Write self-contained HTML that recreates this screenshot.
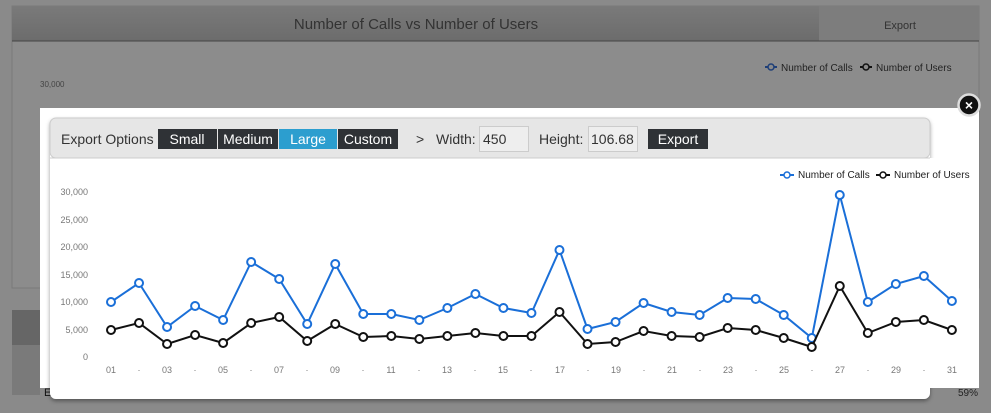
<!DOCTYPE html>
<html><head><meta charset="utf-8"><style>
html,body{margin:0;padding:0;width:991px;height:413px;overflow:hidden;background:#8b8b8b;font-family:"Liberation Sans",sans-serif}
</style></head><body>
<svg width="991" height="413" xmlns="http://www.w3.org/2000/svg" font-family="Liberation Sans, sans-serif">
<defs>
<linearGradient id="hd" x1="0" y1="0" x2="0" y2="1"><stop offset="0" stop-color="#7a7a7a"/><stop offset="1" stop-color="#6c6c6c"/></linearGradient>
<filter id="sh" x="-5%" y="-5%" width="110%" height="120%"><feDropShadow dx="0" dy="2" stdDeviation="2" flood-color="#000" flood-opacity="0.4"/></filter>
</defs>
<rect width="991" height="413" fill="#8a8a8a"/>
<rect x="12" y="6" width="967" height="282" fill="#8c8c8c" stroke="#7a7a7a"/>
<rect x="12" y="6" width="967" height="35" fill="url(#hd)"/>
<rect x="819" y="6" width="160" height="35" fill="#7d7d7d"/>
<line x1="12" y1="41" x2="979" y2="41" stroke="#444"/>
<text x="416" y="29" font-size="15" fill="#333" text-anchor="middle">Number of Calls vs Number of Users</text>
<text x="900" y="29" font-size="11" fill="#333" text-anchor="middle">Export</text>
<text x="40" y="87" font-size="8" fill="#444">30,000</text>
<g font-size="10" fill="#222"><line x1="765" y1="67" x2="777" y2="67" stroke="#1e3f78" stroke-width="2"/><circle cx="771" cy="67" r="3" fill="#8a8a8a" stroke="#1e3f78" stroke-width="1.5"/><text x="781" y="71">Number of Calls</text>
<line x1="860" y1="67" x2="872" y2="67" stroke="#111" stroke-width="2"/><circle cx="866" cy="67" r="3" fill="#8a8a8a" stroke="#111" stroke-width="1.5"/><text x="876" y="71">Number of Users</text></g>
<rect x="12" y="310" width="28" height="35" fill="#666"/>
<rect x="12" y="345" width="28" height="50" fill="#7a7a7a"/>
<text x="44" y="396" font-size="11" fill="#111">E</text>
<text x="958" y="396" font-size="10" fill="#222">59%</text>
<rect x="40" y="108" width="939" height="280" fill="#fff"/>
<rect x="50" y="118" width="880" height="281" rx="6" fill="#fff" filter="url(#sh)"/>
<rect x="50" y="118" width="880" height="40" rx="6" fill="#e6e6e6" stroke="#ccc"/>
<rect x="50" y="158" width="929" height="230" fill="#fff"/>
<line x1="50" y1="158" x2="930" y2="158" stroke="#ccc"/>
<text x="61" y="144" font-size="14" fill="#333">Export Options</text>
<rect x="158" y="129" width="59" height="20" fill="#2f3236"/><text x="187" y="144" font-size="14" fill="#fff" text-anchor="middle">Small</text>
<rect x="218" y="129" width="60" height="20" fill="#2f3236"/><text x="248" y="144" font-size="14" fill="#fff" text-anchor="middle">Medium</text>
<rect x="279" y="129" width="58" height="20" fill="#2c9ecf"/><text x="308" y="144" font-size="14" fill="#fff" text-anchor="middle">Large</text>
<rect x="338" y="129" width="60" height="20" fill="#2f3236"/><text x="368" y="144" font-size="14" fill="#fff" text-anchor="middle">Custom</text>
<text x="416" y="144" font-size="14" fill="#333">&gt;</text>
<text x="436" y="144" font-size="14" fill="#333">Width:</text>
<rect x="479.5" y="126.5" width="49" height="25" fill="#eee" stroke="#ccc"/><text x="483" y="144" font-size="14" fill="#333">450</text>
<text x="539" y="144" font-size="14" fill="#333">Height:</text>
<rect x="588.5" y="126.5" width="49" height="25" fill="#eee" stroke="#ccc"/><text x="591" y="144" font-size="14" fill="#333">106.68</text>
<rect x="648" y="129" width="60" height="20" fill="#2f3236"/><text x="678" y="144" font-size="14" fill="#fff" text-anchor="middle">Export</text>
<circle cx="969" cy="105" r="10.5" fill="#111" stroke="#ddd" stroke-width="2.5"/>
<text x="969" y="110" font-size="14" font-weight="bold" fill="#fff" text-anchor="middle">×</text>
<g font-size="9" fill="#777" text-anchor="end">
<text x="88" y="195">30,000</text><text x="88" y="223">25,000</text><text x="88" y="250">20,000</text><text x="88" y="278">15,000</text><text x="88" y="305">10,000</text><text x="88" y="333">5,000</text><text x="88" y="360">0</text>
</g>
<g font-size="9" fill="#777" text-anchor="middle">
<text x="111" y="373">01</text><text x="139" y="373">·</text><text x="167" y="373">03</text><text x="195" y="373">·</text><text x="223" y="373">05</text><text x="251" y="373">·</text><text x="279" y="373">07</text><text x="307" y="373">·</text><text x="335" y="373">09</text><text x="363" y="373">·</text><text x="391" y="373">11</text><text x="419" y="373">·</text><text x="447" y="373">13</text><text x="475" y="373">·</text><text x="503" y="373">15</text><text x="531" y="373">·</text><text x="560" y="373">17</text><text x="588" y="373">·</text><text x="616" y="373">19</text><text x="644" y="373">·</text><text x="672" y="373">21</text><text x="700" y="373">·</text><text x="728" y="373">23</text><text x="756" y="373">·</text><text x="784" y="373">25</text><text x="812" y="373">·</text><text x="840" y="373">27</text><text x="868" y="373">·</text><text x="896" y="373">29</text><text x="924" y="373">·</text><text x="952" y="373">31</text>
</g>
<g font-size="10" fill="#222">
<line x1="780" y1="175" x2="794" y2="175" stroke="#1a6fd8" stroke-width="2"/><circle cx="787" cy="175" r="3" fill="#fff" stroke="#1a6fd8" stroke-width="1.5"/><text x="798" y="178">Number of Calls</text>
<line x1="876" y1="175" x2="890" y2="175" stroke="#111" stroke-width="2"/><circle cx="883" cy="175" r="3" fill="#fff" stroke="#111" stroke-width="1.5"/><text x="894" y="178">Number of Users</text>
</g>
<g id="series"></g>
</svg>
<script>
var calls=[302,283,327,306,320,262,279,324,264,314,314,320,308,294,308,313,250,329,322,303,312,315,298,299,315,338,195,302,284,276,301];
var users=[330,323,344,335,343,323,317,341,324,337,336,339,336,333,336,336,312,344,342,331,336,337,328,330,338,347,286,333,322,320,330];
var g=document.getElementById('series'),ns='http://www.w3.org/2000/svg';
function draw(d,c){var pts=d.map(function(y,i){return (111+i*28.03).toFixed(1)+','+y}).join(' ');
var p=document.createElementNS(ns,'polyline');p.setAttribute('points',pts);p.setAttribute('fill','none');p.setAttribute('stroke',c);p.setAttribute('stroke-width','2');g.appendChild(p);
d.forEach(function(y,i){var e=document.createElementNS(ns,'circle');e.setAttribute('cx',111+i*28.03);e.setAttribute('cy',y);e.setAttribute('r','4');e.setAttribute('fill','#fff');e.setAttribute('stroke',c);e.setAttribute('stroke-width','2');g.appendChild(e);});}
draw(calls,'#1a6fd8');draw(users,'#111');
</script>
</body></html>
